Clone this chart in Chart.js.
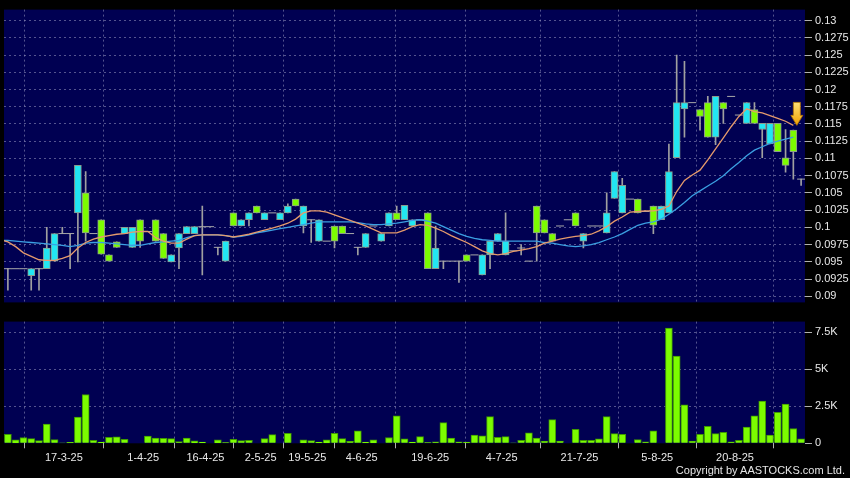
<!DOCTYPE html>
<html>
<head>
<meta charset="utf-8">
<script src="https://cdn.jsdelivr.net/npm/chart.js@4.4.1/dist/chart.umd.min.js"></script>
<style>
    html, body { margin: 0; padding: 0; background: #000; }
    #wrap { position: relative; width: 850px; height: 478px; overflow: hidden; background: #000; }
    #priceChart { position: absolute; left: 0; top: 0; }
    #volChart { position: absolute; left: 0; top: 312px; }
    #copy { position: absolute; right: 5px; top: 464px; font: 11px "Liberation Sans", Arial, sans-serif; color: #e6e6e6; }
</style>
</head>
<body>
<div id="wrap">
    <canvas id="priceChart" width="850" height="312"></canvas>
    <canvas id="volChart" width="850" height="166"></canvas>
    <div id="copy">Copyright by AASTOCKS.com Ltd.</div>
</div>
<script>
// daily candles, one slot per trading day (slot 0 = first day shown)
const opens = [
    .094, .094, .094, .093, .094, .094, .0951, .0991, .0991, .1021,
    .105, .0991, .1011, .096, .0979, .0991, .0971, .1011, .0994, .1011,
    .0991, .095, .097, .0991, .0991, .1001, .1001, .0971, .0951, .1021,
    .1002, .1011, .1031, .1011, .1021, .1011, .1021, .1041, .1002, .1011,
    .098, .098, .1002, .1002, .0991, .0971, .0971, .1002, .098, .1002,
    .1021, .1011, .1002, .1011, .1021, .094, .0951, .0951, .0951, .096,
    .096, .0931, .096, .098, .096, .0966, .097, .0951, .1031, .1011,
    .0991, .1002, .1011, .1021, .098, .1002, .1002, .0992, .1042, .1021,
    .1041, .1041, .1023, .1031, .1011, .1021, .1101, .1172, .1181, .1171,
    .1181, .1131, .1181, .119, .1163, .1151, .1171, .1142, .1121, .1151,
    .1101, .1141, .107
];
const highs = [
    .094, .094, .094, .094, .094, .100, .0991, .100, .0991, .109,
    .1081, .0991, .1011, .096, .0979, .1, .1, .1011, .0994, .1011,
    .0991, .096, .0991, .1001, .1001, .1031, .1001, .0971, .098, .1021,
    .1011, .1021, .1031, .1021, .1021, .1021, .1034, .1041, .1031, .1011,
    .1011, .098, .1002, .1002, .0991, .0971, .0991, .1002, .0991, .1021,
    .1031, .1032, .1011, .1011, .1021, .1002, .0951, .0951, .0951, .096,
    .096, .096, .098, .0991, .1021, .0966, .0975, .0951, .1031, .1011,
    .0991, .1002, .1011, .1021, .0991, .1002, .1002, .105, .1081, .1071,
    .1041, .1041, .1023, .1031, .1031, .1121, .125, .1241, .1181, .1171,
    .119, .119, .1181, .119, .1163, .1181, .1181, .1151, .1151, .1151,
    .1142, .1141, .107
];
const lows = [
    .0909, .094, .094, .0909, .0909, .094, .0951, .0991, .094, .095,
    .098, .0991, .0961, .0951, .0971, .0991, .0971, .0971, .0994, .098,
    .0955, .095, .094, .0991, .0991, .0931, .1001, .096, .0951, .1002,
    .1002, .1002, .1021, .1011, .1021, .1011, .1021, .1031, .0992, .0978,
    .098, .098, .097, .0991, .0991, .096, .0971, .1002, .098, .1002,
    .1011, .1011, .1002, .1011, .094, .094, .094, .0951, .092, .0951,
    .096, .0931, .094, .098, .096, .0966, .096, .0951, .0951, .0992,
    .098, .1002, .1011, .1002, .097, .1002, .1002, .0992, .1042, .1021,
    .1041, .1021, .1023, .0991, .1011, .1021, .1101, .1131, .1181, .1141,
    .1131, .112, .1151, .119, .1163, .1151, .1151, .1101, .1121, .111,
    .108, .107, .1061
];
const closes = [
    .094, .094, .094, .094, .094, .097, .0991, .0991, .0991, .109,
    .0992, .0991, .0961, .0951, .0971, .1, .1, .098, .0994, .098,
    .0955, .096, .0991, .1001, .1001, .1001, .1001, .0971, .098, .1002,
    .1011, .1021, .1021, .1021, .1021, .1021, .1031, .1031, .1031, .1011,
    .1011, .098, .098, .0991, .0991, .0971, .0991, .1002, .0991, .1021,
    .1011, .1032, .1011, .1011, .094, .097, .0951, .0951, .0951, .0951,
    .096, .096, .098, .0991, .098, .0966, .097, .0951, .0992, .0992,
    .098, .1002, .1011, .1002, .0991, .1002, .1002, .1021, .1081, .1061,
    .1041, .1021, .1023, .1003, .1031, .1081, .1181, .1181, .1181, .1161,
    .1131, .119, .1172, .119, .1163, .1181, .1151, .1151, .1151, .111,
    .109, .111, .107
];
// volume in thousands
const volumes = [
    .61, .23, .39, .32, .18, 1.3, .25, .03, .06, 1.77,
    3.3, .2, .09, .41, .43, .27, 0, 0, .48, .36,
    .34, .32, .11, .36, .16, .09, 0, .23, .05, .27,
    .18, .2, 0, .32, .59, 0, .68, 0, .23, .18,
    .09, .23, .68, .32, .14, .84, .09, .23, 0, .39,
    1.86, .3, .09, .45, .05, .1, 1.4, .35, .1, .08,
    .55, .5, 1.8, .4, .45, .03, .2, .7, .35, .15,
    1.6, .15, 0, .95, .2, .2, .3, 1.8, .65, .6,
    0, .25, .1, .85, 0, 7.8, 5.9, 2.6, .15, .6,
    1.15, .65, .75, .1, .2, 1.1, 1.85, 2.85, .55, 2.1,
    2.65, 1.0, .3
];
// moving averages, first value sits at slot -1
const maStart = -1;
const maShort = [
    .0982,
    .0979, .0972, .0963, .0958, .0953, .0952, .0952, .0955, .0959, .0970,
    .0978, .0983, .0986, .0988, .0990, .0991, .0993, .0994, .0994, .0985,
    .0980, .0977, .0977, .0983, .0988, .0989, .0989, .0989, .0988, .0986,
    .0988, .0990, .0993, .0996, .0999, .1002, .1006, .1012, .1021, .1024,
    .1024, .1022, .1018, .1014, .1010, .1006, .1002, .0997, .0992, .0992,
    .0992, .0996, .1001, .1004, .1003, .0999, .0994, .0988, .0983, .0978,
    .0972, .0966, .0962, .0960, .0962, .0965, .0967, .0969, .0972, .0977,
    .0980, .0983, .0985, .0987, .0988, .0990, .0995, .1001, .1009, .1015,
    .1022, .1023, .1024, .1024, .1026, .1031, .1052, .1068, .1076, .1083,
    .1098, .1114, .1130, .1146, .1161, .1172, .1168, .1166, .1162, .1158,
    .1154, .1148
];
const maLong = [
    .0981,
    .0981, .0980, .0979, .0978, .0977, .0976, .0975, .0974, .0972, .0974,
    .0977, .0978, .0978, .0977, .0976, .0975, .0974, .0974, .0976, .0978,
    .0979, .0980, .0981, .0985, .0988, .0989, .0989, .0989, .0988, .0986,
    .0987, .0989, .0992, .0994, .0996, .0998, .1000, .1002, .1004, .1006,
    .1008, .1008, .1008, .1008, .1008, .1007, .1005, .1004, .1004, .1005,
    .1006, .1008, .1010, .1011, .1009, .1006, .1001, .0996, .0991, .0987,
    .0984, .0982, .0981, .0980, .0980, .0980, .0980, .0980, .0980, .0978,
    .0977, .0975, .0973, .0972, .0973, .0975, .0978, .0982, .0986, .0991,
    .0997, .1003, .1006, .1008, .1012, .1019, .1027, .1036, .1046, .1053,
    .1060, .1067, .1075, .1085, .1094, .1104, .1112, .1117, .1122, .1125,
    .1128, .1131
];
const tickPos = [7.2, 17.4, 25.4, 32.5, 38.5, 45.5, 54.3, 63.5, 73.5, 83.5, 93.5];
const tickText = ['17-3-25', '1-4-25', '16-4-25', '2-5-25', '19-5-25', '4-6-25', '19-6-25', '4-7-25', '21-7-25', '5-8-25', '20-8-25'];
const priceTicks = [0.09, 0.0925, 0.095, 0.0975, 0.1, 0.1025, 0.105, 0.1075, 0.11, 0.1125, 0.115, 0.1175, 0.12, 0.1225, 0.125, 0.1275, 0.13];
const volTicks = [0, 2.5, 5, 7.5];

const navy = '#000052';
const gridColor = 'rgba(140,140,185,0.6)';
const labelColor = '#e8e8e8';
const upColor = '#22e6f2';
const downColor = '#7cfc00';
const fontFamily = '"Liberation Sans", Arial, sans-serif';

const areaBg = {
    id: 'areaBg',
    beforeDraw(chart) {
        const a = chart.chartArea;
        const ctx = chart.ctx;
        ctx.save();
        ctx.fillStyle = navy;
        ctx.fillRect(a.left, a.top, a.right - a.left, a.bottom - a.top);
        ctx.restore();
    }
};

// the yellow arrow pointing at the last value of the short average
const lastArrow = {
    id: 'lastArrow',
    afterDatasetsDraw(chart) {
        const pts = chart.getDatasetMeta(0).data;
        const p = pts[pts.length - 1];
        if (!p) return;
        const ctx = chart.ctx;
        const x = p.x + 3.5, y = p.y;
        const g = ctx.createLinearGradient(0, y - 24, 0, y);
        g.addColorStop(0, '#ffe27a');
        g.addColorStop(1, '#f0a000');
        ctx.save();
        ctx.fillStyle = g;
        ctx.strokeStyle = '#b07000';
        ctx.lineWidth = 0.8;
        ctx.beginPath();
        ctx.moveTo(x - 3.5, y - 23);
        ctx.lineTo(x + 3.5, y - 23);
        ctx.lineTo(x + 3.5, y - 10);
        ctx.lineTo(x + 6, y - 10);
        ctx.lineTo(x, y);
        ctx.lineTo(x - 6, y - 10);
        ctx.lineTo(x - 3.5, y - 10);
        ctx.closePath();
        ctx.fill();
        ctx.stroke();
        ctx.restore();
    }
};

const slots = opens.map((_, i) => i);
const dojis = slots.filter(i => opens[i] === closes[i]).map(i => ({ x: i, y: opens[i] }));
const bodyIdx = slots.filter(i => opens[i] !== closes[i]);
const bodies = bodyIdx.map(i => ({ x: i, y: [Math.min(opens[i], closes[i]), Math.max(opens[i], closes[i])] }));
const bodyColors = bodyIdx.map(i => closes[i] > opens[i] ? upColor : downColor);
const wicks = slots.filter(i => highs[i] > lows[i]).map(i => ({ x: i, y: [lows[i], highs[i]] }));

const xAxis = (showLabels) => ({
    type: 'linear',
    min: -0.5,
    max: opens.length - 0.5,
    offset: false,
    afterBuildTicks: s => { s.ticks = tickPos.map(v => ({ value: v })); },
    afterFit: s => { s.height = showLabels ? 34.7 : 0; },
    border: { display: false, dash: [2, 3] },
    grid: { color: gridColor, borderDash: [2, 3], drawTicks: showLabels, tickLength: 5, tickColor: '#b0b0b0', tickBorderDash: [] },
    ticks: {
        display: showLabels,
        autoSkip: false,
        maxRotation: 0,
        padding: 3,
        color: labelColor,
        font: { family: fontFamily, size: 11 },
        callback: v => tickText[tickPos.indexOf(v)]
    }
});

new Chart(document.getElementById('priceChart'), {
    type: 'bar',
    data: {
        datasets: [
            { type: 'line', data: maShort.map((v, k) => ({ x: k + maStart, y: v })), borderColor: '#e59a6c', borderWidth: 1.3, pointRadius: 0, tension: 0, order: 0 },
            { type: 'line', data: maLong.map((v, k) => ({ x: k + maStart, y: v })), borderColor: '#3b9fe2', borderWidth: 1.3, pointRadius: 0, tension: 0, order: 1 },
            { type: 'line', data: dojis, showLine: false, pointStyle: 'line', pointRadius: 4, pointBorderColor: '#a8a8a8', pointBorderWidth: 1, order: 2 },
            { data: bodies, backgroundColor: bodyColors, borderColor: '#8c9a8c', borderWidth: 1, borderSkipped: false, barThickness: 7, grouped: false, order: 3 },
            { data: wicks, backgroundColor: '#a0a0a0', barThickness: 1, grouped: false, order: 4 }
        ]
    },
    options: {
        responsive: false,
        animation: false,
        layout: { autoPadding: false, padding: { left: 4, right: 0, top: 8, bottom: 4 } },
        plugins: { legend: { display: false }, tooltip: { enabled: false } },
        scales: {
            x: xAxis(false),
            y: {
                position: 'right',
                min: 0.08911,
                max: 0.1316,
                afterBuildTicks: s => { s.ticks = priceTicks.map(v => ({ value: v })); },
                afterFit: s => { s.width = 45; },
                border: { display: false, dash: [2, 3] },
                grid: { color: gridColor, borderDash: [2, 3], tickLength: 7, tickColor: '#b0b0b0', tickBorderDash: [] },
                ticks: { padding: 3, color: labelColor, font: { family: fontFamily, size: 11 }, callback: v => String(+v.toFixed(4)) }
            }
        }
    },
    plugins: [areaBg, lastArrow]
});

new Chart(document.getElementById('volChart'), {
    type: 'bar',
    data: {
        datasets: [{
            data: volumes.map((v, i) => ({ x: i, y: v })),
            backgroundColor: downColor,
            borderColor: '#3f9a00',
            borderWidth: 1,
            barThickness: 7
        }]
    },
    options: {
        responsive: false,
        animation: false,
        layout: { autoPadding: false, padding: { left: 4, right: 0, top: 7, bottom: 0 } },
        plugins: { legend: { display: false }, tooltip: { enabled: false } },
        scales: {
            x: xAxis(true),
            y: {
                position: 'right',
                min: 0,
                max: 8.23,
                afterBuildTicks: s => { s.ticks = volTicks.map(v => ({ value: v })); },
                afterFit: s => { s.width = 45; },
                border: { display: false, dash: [2, 3] },
                grid: { color: c => (c.tick && c.tick.value === 0) ? 'rgba(0,0,0,0)' : gridColor, borderDash: [2, 3], tickLength: 7, tickColor: '#b0b0b0', tickBorderDash: [] },
                ticks: { padding: 3, color: labelColor, font: { family: fontFamily, size: 11 }, callback: v => v === 0 ? '0' : v + 'K' }
            }
        }
    },
    plugins: [areaBg]
});
</script>
</body>
</html>
